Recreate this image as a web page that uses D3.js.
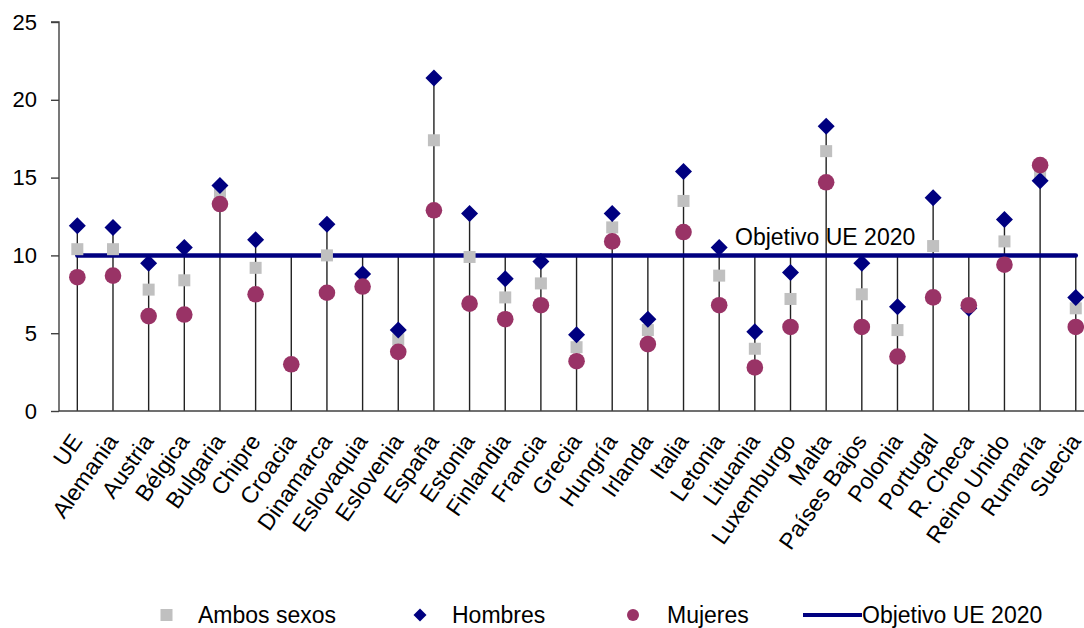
<!DOCTYPE html>
<html>
<head>
<meta charset="utf-8">
<script src="https://cdn.jsdelivr.net/npm/d3@7"></script>
<style>
  html, body { margin: 0; padding: 0; background: #fff; }
  svg { display: block; font-family: "Liberation Sans", Arial, sans-serif; }
</style>
</head>
<body>
<svg id="chart" width="1084" height="628"></svg>
<script>
const categories = ["UE","Alemania","Austria","Bélgica","Bulgaria","Chipre","Croacia","Dinamarca","Eslovaquia","Eslovenia","España","Estonia","Finlandia","Francia","Grecia","Hungría","Irlanda","Italia","Letonia","Lituania","Luxemburgo","Malta","Países Bajos","Polonia","Portugal","R. Checa","Reino Unido","Rumanía","Suecia"];
const ambos    = [10.4,10.4,7.8,8.4,14.0,9.2,null,10.0,null,4.6,17.4,9.9,7.3,8.2,4.1,11.8,5.2,13.5,8.7,4.0,7.2,16.7,7.5,5.2,10.6,null,10.9,15.3,6.6];
const hombres  = [11.9,11.8,9.5,10.5,14.5,11.0,null,12.0,8.8,5.2,21.4,12.7,8.5,9.6,4.9,12.7,5.9,15.4,10.5,5.1,8.9,18.3,9.5,6.7,13.7,6.6,12.3,14.8,7.3];
const mujeres  = [8.6,8.7,6.1,6.2,13.3,7.5,3.0,7.6,8.0,3.8,12.9,6.9,5.9,6.8,3.2,10.9,4.3,11.5,6.8,2.8,5.4,14.7,5.4,3.5,7.3,6.8,9.4,15.8,5.4];
const objetivo = 10;
const yTicks = [0,5,10,15,20,25];
const seriesNames = ["Ambos sexos","Hombres","Mujeres","Objetivo UE 2020"];

const colGrey = "#c0c0c0", colNavy = "#000080", colPlum = "#993366", colAxis = "#404040";

const svg = d3.select("#chart");
const x = d3.scaleBand().domain(categories).range([59.5, 1093.6]).padding(0);
const cx = c => x(c) + x.bandwidth() / 2;
const y = d3.scaleLinear().domain([0, 25]).range([411, 22]);

// drop lines (stems)
const tops = categories.map((c, i) => d3.max([ambos[i], hombres[i], mujeres[i], objetivo].filter(v => v != null)));
svg.append("g").selectAll("line").data(categories).join("line")
  .attr("x1", d => cx(d)).attr("x2", d => cx(d))
  .attr("y1", y(0)).attr("y2", (d, i) => y(tops[i]))
  .attr("stroke", "#222").attr("stroke-width", 1.4);

// y axis
const yAxis = svg.append("g").attr("transform", "translate(59,0)")
  .call(d3.axisLeft(y).tickValues(yTicks).tickSize(8).tickPadding(14).tickFormat(d3.format("d")));
yAxis.select(".domain").attr("stroke", colAxis).attr("stroke-width", 1.4).attr("d", `M-8,${y(25)}H0V${y(0)}`);
yAxis.selectAll(".tick line").attr("stroke", colAxis).attr("stroke-width", 1.4);
yAxis.selectAll(".tick text").attr("font-size", 22).attr("fill", "#000").attr("font-family", "Liberation Sans, Arial, sans-serif");

// x axis line
svg.append("line").attr("x1", 59).attr("x2", 1084).attr("y1", y(0)).attr("y2", y(0))
  .attr("stroke", colAxis).attr("stroke-width", 1.4);

// x labels
svg.append("g").selectAll("text").data(categories).join("text")
  .attr("transform", d => `translate(${cx(d)},437) rotate(-55)`)
  .attr("text-anchor", "end").attr("dy", "0.32em")
  .attr("font-size", 23).attr("fill", "#000")
  .text(d => d);

// objective line
svg.append("line")
  .attr("x1", cx(categories[0])).attr("x2", cx(categories[categories.length - 1]))
  .attr("y1", y(objetivo)).attr("y2", y(objetivo))
  .attr("stroke", colNavy).attr("stroke-width", 4.5).attr("stroke-linecap", "round");
svg.append("text").attr("x", 735).attr("y", y(objetivo) - 10)
  .attr("font-size", 23).attr("fill", "#000").text("Objetivo UE 2020");

// markers
const sq = 12, dm = 8.5, rc = 8.3;
svg.append("g").selectAll("rect").data(categories.map((c, i) => ({c, v: ambos[i]})).filter(d => d.v != null)).join("rect")
  .attr("x", d => cx(d.c) - sq / 2).attr("y", d => y(d.v) - sq / 2)
  .attr("width", sq).attr("height", sq).attr("fill", colGrey);
svg.append("g").selectAll("path").data(categories.map((c, i) => ({c, v: hombres[i]})).filter(d => d.v != null)).join("path")
  .attr("d", d => { const X = cx(d.c), Y = y(d.v); return `M${X},${Y - dm}L${X + dm},${Y}L${X},${Y + dm}L${X - dm},${Y}Z`; })
  .attr("fill", colNavy);
svg.append("g").selectAll("circle").data(categories.map((c, i) => ({c, v: mujeres[i]})).filter(d => d.v != null)).join("circle")
  .attr("cx", d => cx(d.c)).attr("cy", d => y(d.v)).attr("r", rc).attr("fill", colPlum);

// legend
const ly = 615, lb = 623;
const lg = svg.append("g").attr("font-size", 23).attr("fill", "#000");
lg.append("rect").attr("x", 160.5).attr("y", ly - 6).attr("width", 12).attr("height", 12).attr("fill", colGrey);
lg.append("text").attr("x", 198).attr("y", lb).text(seriesNames[0]);
lg.append("path").attr("d", `M420,${ly - 6.5}L426.5,${ly}L420,${ly + 6.5}L413.5,${ly}Z`).attr("fill", colNavy);
lg.append("text").attr("x", 452).attr("y", lb).text(seriesNames[1]);
lg.append("circle").attr("cx", 633).attr("cy", ly).attr("r", 6).attr("fill", colPlum);
lg.append("text").attr("x", 667).attr("y", lb).text(seriesNames[2]);
lg.append("line").attr("x1", 803).attr("x2", 862).attr("y1", ly).attr("y2", ly).attr("stroke", colNavy).attr("stroke-width", 4);
lg.append("text").attr("x", 862).attr("y", lb).text(seriesNames[3]);
</script>
</body>
</html>
